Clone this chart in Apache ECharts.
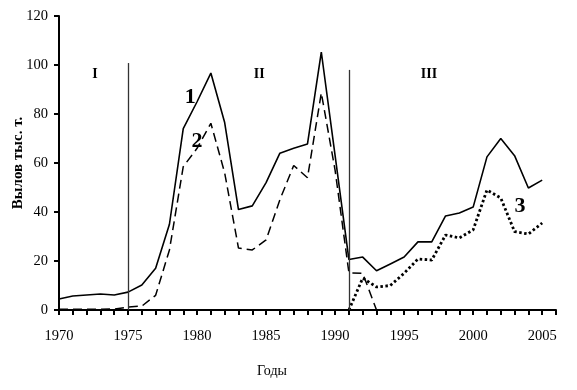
<!DOCTYPE html>
<html><head><meta charset="utf-8">
<script src="https://cdn.jsdelivr.net/npm/echarts@6/dist/echarts.min.js"></script>
<style>html,body{margin:0;padding:0;background:#fff}#c{width:577px;height:390px}</style>
</head><body><div id="c"></div>
<script>
const years1 = [1970,1971,1972,1973,1974,1975,1976,1977,1978,1979,1980,1981,1982,1983,1984,1985,1986,1987,1988,1989,1990,1991,1992,1993,1994,1995,1996,1997,1998,1999,2000,2001,2002,2003,2004,2005];
const series1 = [4.5,5.7,6.1,6.5,6.1,7.3,10.2,17,35,74,85,96.7,76.5,41,42.5,52,64,66,67.8,105.3,63,20.6,21.6,16,18.8,21.6,27.8,27.8,38.4,39.6,42,62.5,70,63,49.8,53];
const years2 = [1970,1971,1972,1973,1974,1975,1976,1977,1978,1979,1980,1981,1982,1983,1984,1985,1986,1987,1988,1989,1990,1991,1992,1993];
const series2 = [0.3,0.3,0.3,0.3,0.4,1.2,1.6,6,24.5,58.5,66,76.2,56,25.3,24.5,28.6,45,59,54,88.6,57,15.2,15,0];
const years3 = [1991,1992,1993,1994,1995,1996,1997,1998,1999,2000,2001,2002,2003,2004,2005];
const series3 = [0,13,9.4,10,15,20.8,20.4,30.6,29.4,32.7,49,45.7,32,31,35.5];
const dividerYears = [1975, 1991];
const dividerTops = [100.8, 98];
const periodLabels = ['I','II','III'];
const periodPos = [[1972.6,96],[1984.5,96],[1996.8,96]];
const seriesTags = ['1','2','3'];
const seriesTagPos = [[1979.5,87],[1980,69],[2003.4,42.5]];
const yTicks = [0,20,40,60,80,100,120];

const serif = '"Liberation Serif","DejaVu Serif",serif';
const zip = (xs, ys) => xs.map((x,i)=>[x, ys[i]]);
const chart = echarts.init(document.getElementById('c'));
chart.setOption({
  animation:false,
  backgroundColor:'#fff',
  grid:{left:59,right:21,top:16,bottom:80,containLabel:false,outerBoundsMode:'none'},
  xAxis:{type:'value',min:1970,max:2006,interval:1,
    axisLine:{lineStyle:{color:'#000',width:2}},
    axisTick:{show:true,inside:false,length:5,lineStyle:{color:'#000',width:2}},
    axisLabel:{color:'#000',fontFamily:serif,fontSize:14.5,margin:19,
      formatter:v=> (v%5===0 && v<=2005) ? String(v) : ''},
    splitLine:{show:false}},
  yAxis:{type:'value',min:yTicks[0],max:yTicks[yTicks.length-1],interval:20,
    name:'Вылов тыс. т.',nameLocation:'middle',nameGap:33,nameRotate:90,nameMoveOverlap:false,
    nameTextStyle:{color:'#000',fontFamily:serif,fontSize:15,fontWeight:'bold'},
    axisLine:{show:true,lineStyle:{color:'#000',width:2}},
    axisTick:{show:true,inside:false,length:5,lineStyle:{color:'#000',width:2}},
    axisLabel:{color:'#000',fontFamily:serif,fontSize:14.5,margin:11},
    splitLine:{show:false}},
  graphic:[{type:'text',left:257,top:364,style:{text:'Годы',fill:'#000',font:'14px '+serif}}],
  series:[
    {type:'line',data:zip(years1,series1),symbol:'none',lineStyle:{color:'#000',width:1.6},z:3,
      markLine:{symbol:'none',silent:true,label:{show:false},lineStyle:{color:'#333',width:1.3,type:'solid'},
        data:dividerYears.map((y,i)=>[{coord:[y,0]},{coord:[y,dividerTops[i]]}])}},
    {type:'line',data:zip(years2,series2),symbol:'none',lineStyle:{color:'#000',width:1.5,type:[9,5]},z:3},
    {type:'line',data:zip(years3,series3),symbol:'none',lineStyle:{color:'#000',width:2.8,type:[2.5,2.5]},z:3},
    {type:'scatter',symbolSize:0,itemStyle:{opacity:1},data:periodPos.map((p,i)=>({value:p,name:periodLabels[i]})),
      label:{show:true,position:'inside',formatter:p=>p.name,color:'#000',fontFamily:serif,fontSize:14,fontWeight:'bold'},z:5},
    {type:'scatter',symbolSize:0,itemStyle:{opacity:1},data:seriesTagPos.map((p,i)=>({value:p,name:seriesTags[i]})),
      label:{show:true,position:'inside',formatter:p=>p.name,color:'#000',fontFamily:serif,fontSize:22,fontWeight:'bold'},z:5}
  ]
});
</script></body></html>
